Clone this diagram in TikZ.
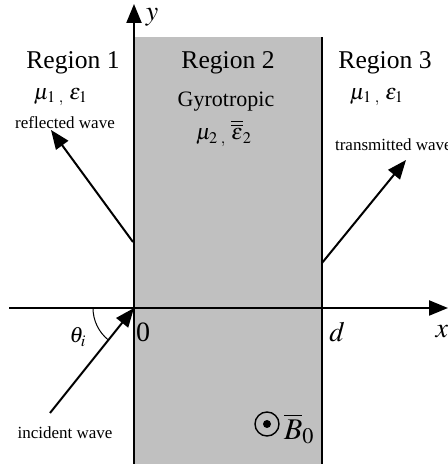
\documentclass[tikz,border=0pt]{standalone}
\usepackage{mathptmx}
\usepackage[no-math]{fontspec}
\setmainfont{Liberation Serif}
\usetikzlibrary{arrows.meta}
\definecolor{slabgray}{RGB}{192,192,192}
\tikzset{
  regionlabel/.style={inner sep=0.5pt,font=\fontsize{12.8}{14}\selectfont},
  paramlabel/.style={inner sep=0.5pt,font=\fontsize{11}{13}\selectfont},
  wavelabel/.style={inner sep=0.5pt,font=\fontsize{8.5}{10}\selectfont},
  axislabel/.style={inner sep=0.5pt,font=\fontsize{14}{16}\selectfont},
  wave/.style={->,line width=1pt}
}

\begin{document}
\begin{tikzpicture}[x=0.5pt,y=0.5pt,>={Triangle[length=9.5pt,width=7.5pt]},line width=1.1pt]
  \useasboundingbox (0,0) rectangle (448,466);
  % slab and boundaries
  \fill[slabgray] (134,2) rectangle (322,429);
  \coordinate (O) at (134,158);
  \coordinate (D) at (322,158);
  \coordinate (ybot) at (134,2);
  \coordinate (ytop) at (134,462);
  \coordinate (xleft) at (9,158);
  \coordinate (xright) at (448,158);
  \coordinate (dbot) at (322,2);
  \coordinate (dtop) at (322,429);
  \draw[->] (ybot) -- (ytop);
  \draw[->] (xleft) -- (xright);
  \draw (dbot) -- (dtop);
  \node[axislabel] (ylab) at (152,449) {$y$};
  \node[axislabel] (xlab) at (442,134) {$x$};
  \node[axislabel] (zero) at (143,134) {0};
  \node[axislabel] (dlab) at (337,134) {$d$};
  % region texts
  \node[regionlabel] (reg1) at (73,403) {Region 1};
  \node[regionlabel] (reg2) at (228,403) {Region 2};
  \node[regionlabel] (reg3) at (385,403) {Region 3};
  \node[paramlabel] (par1) at (61,369) {$\mu_{1\;,}\;\varepsilon_1$};
  \node[paramlabel] (gyro) at (226,364) {Gyrotropic};
  \node[paramlabel] (par2) at (224,333) {$\mu_{2\;,}\;\overline{\overline{\varepsilon}}_2$};
  \node[paramlabel] (par3) at (377,369) {$\mu_{1\;,}\;\varepsilon_1$};
  % waves
  \coordinate (rstart) at (133,224);
  \coordinate (rend) at (51,336);
  \coordinate (tstart) at (322,203);
  \coordinate (tend) at (406,306);
  \coordinate (istart) at (50,53);
  \draw[wave] (rstart) -- (rend);
  \draw[wave] (tstart) -- (tend);
  \draw[wave] (istart) -- (O);
  \node[wavelabel] (rlab) at (65,343) {reflected wave};
  \node[wavelabel,anchor=west] (tlab) at (333,321) {transmitted wave};
  \node[wavelabel] (ilab) at (65,33) {incident wave};
  % angle
  \draw[line width=0.5pt] ([shift={(180:41)}]O) arc[start angle=180,end angle=231,radius=41];
  \node[inner sep=0.5pt,font=\fontsize{11}{13}\selectfont] (theta) at (78,129) {$\theta_i$};
  % static field
  \node[circle,draw,line width=0.7pt,minimum size=12pt,inner sep=0pt] (bcirc) at (267,42) {};
  \fill (bcirc.center) circle[radius=2pt];
  \node[inner sep=0.5pt,font=\fontsize{15}{17}\selectfont,anchor=west] (blab) at (282,37) {$\overline{B}_{\mathrm{0}}$};
\end{tikzpicture}
\end{document}
